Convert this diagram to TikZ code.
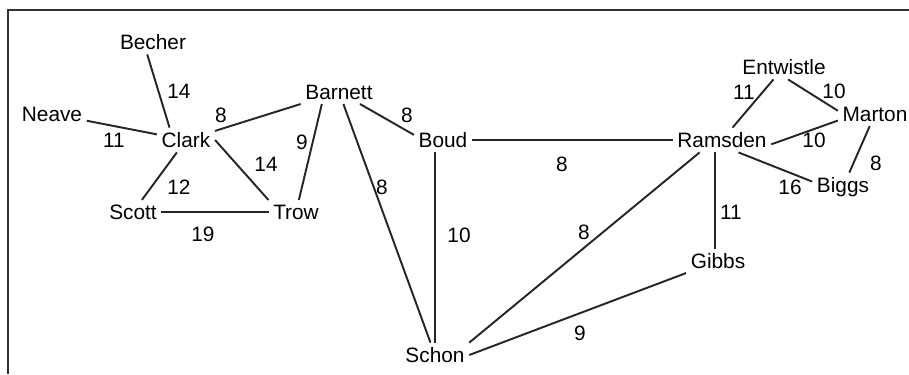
\documentclass[tikz,border=0pt]{standalone}
\usepackage{fontspec}
\setmainfont{Liberation Sans}
\usetikzlibrary{positioning}

\begin{document}
\begin{tikzpicture}[x=0.567pt,y=-0.567pt,
  city/.style={inner sep=2.5pt,font=\fontsize{11.8}{14}\selectfont},
  wt/.style={inner sep=0pt,font=\fontsize{11.8}{14}\selectfont},
  road/.style={line width=1.1pt,black!85}]
\useasboundingbox (0,0) rectangle (909,374);
\draw[line width=0.9pt,black!80] (8,374) -- (8,10) -- (909,10);
% towns
\node[city] (becher)  at (153,42)  {Becher};
\node[city] (neave)   at (52,114)  {Neave};
\node[city] (clark)   at (186,140) {Clark};
\node[city] (barnett) at (339,92)  {Barnett};
\node[city] (boud)    at (443,140) {Boud};
\node[city] (scott)   at (133,212) {Scott};
\node[city] (trow)    at (296,212) {Trow};
\node[city] (schon)   at (435,355) {Schon};
\node[city] (ramsden) at (722,140) {Ramsden};
\node[city] (entw)    at (784,67)  {Entwistle};
\node[city] (marton)  at (875,114) {Marton};
\node[city] (biggs)   at (843,187) {Biggs};
\node[city] (gibbs)   at (718,261) {Gibbs};
% roads
\draw[road] (becher.245) -- (clark.143);
\draw[road] (neave) -- (clark);
\draw[road] (clark) -- (barnett);
\draw[road] (clark.east) -- (trow.north west);
\draw[road] (clark) -- (scott);
\draw[road] (scott) -- (trow);
\draw[road] (barnett.215) -- (trow);
\draw[road] (barnett) -- (boud.170);
\draw[road] (barnett) -- (schon);
\draw[road] (boud.south -| schon.88) -- (schon.88);
\draw[road] (boud) -- (ramsden);
\draw[road] (ramsden.209) -- (schon.north east);
\draw[road] (gibbs) -- (schon.east);
\draw[road] (ramsden.south -| gibbs.102) -- (gibbs.102);
\draw[road] (ramsden) -- (entw);
\draw[road] (entw.288) -- (marton.175);
\draw[road] (ramsden.355) -- (marton.190);
\draw[road] (ramsden.323) -- (biggs.170);
\draw[road] (marton) -- (biggs);
% distances
\node[wt] (d1)  at (179,91)  {14};
\node[wt] (d2)  at (114,140) {11};
\node[wt] (d3)  at (221,115) {8};
\node[wt] (d4)  at (266,164) {14};
\node[wt] (d5)  at (179,187) {12};
\node[wt] (d6)  at (203,234) {19};
\node[wt] (d7)  at (302,142) {9};
\node[wt] (d8)  at (407,115) {8};
\node[wt] (d9)  at (382,187) {8};
\node[wt] (d10) at (459,235) {10};
\node[wt] (d11) at (562,164) {8};
\node[wt] (d12) at (584,232) {8};
\node[wt] (d13) at (580,333) {9};
\node[wt] (d14) at (731,212) {11};
\node[wt] (d15) at (744,92)  {11};
\node[wt] (d16) at (834,91)  {10};
\node[wt] (d17) at (814,140) {10};
\node[wt] (d18) at (790,187) {16};
\node[wt] (d19) at (876,163) {8};
\end{tikzpicture}
\end{document}
